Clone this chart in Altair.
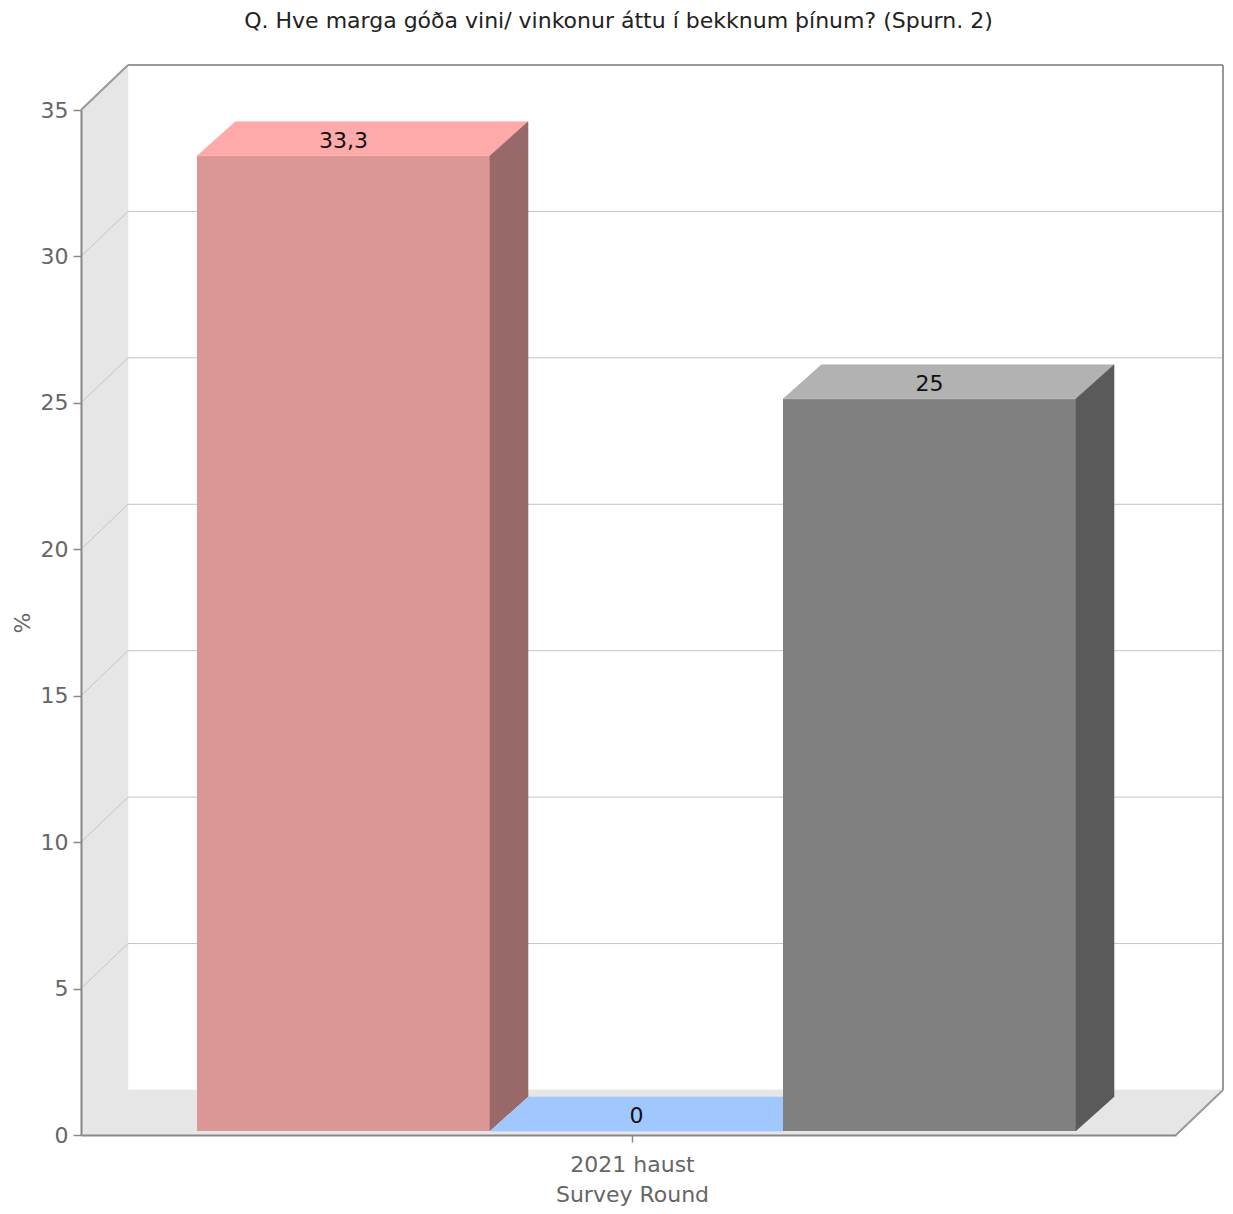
import altair as alt
import pandas as pd

# ---------------- data ----------------
TITLE = "Q. Hve marga góða vini/ vinkonur áttu í bekknum þínum? (Spurn. 2)"
CATEGORIES = ["2021 haust"]
SERIES = ["s1", "s2", "s3"]
VALUES = [33.3, 0.0, 25.0]
VALUE_LABELS = ["33,3", "0", "25"]
Y_TICKS = [0, 5, 10, 15, 20, 25, 30, 35]
X_TITLE = "Survey Round"
Y_TITLE = "%"

# ---------------- style ----------------
FRONT_COLORS = ["#db9696", "#a0c8ff", "#808080"]
TOP_COLORS = ["#ffaaaa", "#a0c8ff", "#b2b2b2"]
SIDE_COLORS = ["#996868", "#7090b2", "#5a5a5a"]
WALL_COLOR = "#e6e6e6"
GRID_COLOR = "#c4c4c4"
BORDER_COLOR = "#999999"
FONT = "DejaVu Sans"

W, H = 1095, 1025          # front face of the plot box, px
Y_MAX = 35
WALL_DX_PX, WALL_DY_PX = 47, 45
BAR_DX_PX, BAR_DY_PX = 38, 34
BAR_LIFT = 4
BAR_START_PX = 116
BAR_W_PX = 293
CAT_CENTER_PX = 551


def ux(p):
    return p / W


def uy(p):
    return p * Y_MAX / H


WDX, WDY = ux(WALL_DX_PX), uy(WALL_DY_PX)
BDX, BDY = ux(BAR_DX_PX), uy(BAR_DY_PX)
CAT_CENTER = ux(CAT_CENTER_PX)

xscale = alt.Scale(domain=[0, 1], nice=False, zero=False)
yscale = alt.Scale(domain=[0, Y_MAX], nice=False, zero=False)

y_axis = alt.Axis(
    values=Y_TICKS, title=Y_TITLE, grid=False,
    domainColor="#888888", domainWidth=2, tickColor="#888888", tickSize=8, tickWidth=1.5,
    labelFont=FONT, labelFontSize=22, labelColor="#666666", labelPadding=5,
    titleFont=FONT, titleFontSize=22, titleColor="#666666", titleFontWeight="normal",
    titlePadding=6, zindex=2,
)
x_axis = alt.Axis(
    values=[CAT_CENTER], labelExpr="'" + CATEGORIES[0] + "'", title=X_TITLE, grid=False,
    domainColor="#888888", domainWidth=2, tickColor="#888888", tickSize=7, tickWidth=1.5,
    labelFont=FONT, labelFontSize=22, labelColor="#666666", labelPadding=12,
    titleFont=FONT, titleFontSize=22, titleColor="#666666", titleFontWeight="normal",
    titlePadding=9, titleX=CAT_CENTER_PX, titleAlign="center", zindex=2,
)


def X(field="x"):
    return alt.X(f"{field}:Q", scale=xscale, axis=x_axis)


def Y(field="y"):
    return alt.Y(f"{field}:Q", scale=yscale, axis=y_axis)


def poly_df(pts):
    return pd.DataFrame([{"k": i, "x": p[0], "y": p[1]} for i, p in enumerate(pts)])


def poly(pts, color, lift=0):
    return alt.Chart(poly_df(pts)).mark_line(
        fill=color, stroke=color, strokeWidth=0.6, yOffset=-lift, strokeJoin="miter"
    ).encode(x=X(), y=Y(), order=alt.Order("k:Q"))


layers = []

# left wall and floor
layers.append(poly([(0, 0), (0, Y_MAX), (WDX, Y_MAX + WDY), (WDX, WDY)], WALL_COLOR))
layers.append(poly([(0, 0), (1, 0), (1 + WDX, WDY), (WDX, WDY)], WALL_COLOR))

# gridlines on the walls
grid_rows = []
for v in Y_TICKS[1:-1]:
    grid_rows.append({"x": 0, "y": v, "x2": WDX, "y2": v + WDY})
    grid_rows.append({"x": WDX, "y": v + WDY, "x2": 1 + WDX, "y2": v + WDY})
layers.append(
    alt.Chart(pd.DataFrame(grid_rows)).mark_rule(color=GRID_COLOR, strokeWidth=1).encode(
        x=X(), y=Y(), x2="x2:Q", y2="y2:Q"
    )
)

# border of the box
border_rows = [
    {"x": 0, "y": Y_MAX, "x2": WDX, "y2": Y_MAX + WDY},
    {"x": WDX, "y": Y_MAX + WDY, "x2": 1 + WDX, "y2": Y_MAX + WDY},
    {"x": 1 + WDX, "y": Y_MAX + WDY, "x2": 1 + WDX, "y2": WDY},
    {"x": 1 + WDX, "y": WDY, "x2": 1, "y2": 0},
]
layers.append(
    alt.Chart(pd.DataFrame(border_rows)).mark_rule(color=BORDER_COLOR, strokeWidth=2).encode(
        x=X(), y=Y(), x2="x2:Q", y2="y2:Q"
    )
)

# bars
for i, v in enumerate(VALUES):
    x0 = ux(BAR_START_PX + i * BAR_W_PX)
    x1 = ux(BAR_START_PX + (i + 1) * BAR_W_PX)
    front = pd.DataFrame([{"x": x0, "x2": x1, "y": v, "y2": 0, "series": SERIES[i]}])
    layers.append(
        alt.Chart(front).mark_rect(
            color=FRONT_COLORS[i], yOffset=-BAR_LIFT, y2Offset=-BAR_LIFT
        ).encode(x=X(), x2="x2:Q", y=Y(), y2="y2:Q")
    )
    layers.append(poly([(x0, v), (x1, v), (x1 + BDX, v + BDY), (x0 + BDX, v + BDY)],
                       TOP_COLORS[i], lift=BAR_LIFT))
    if v > 0:
        layers.append(poly([(x1, 0), (x1, v), (x1 + BDX, v + BDY), (x1 + BDX, BDY)],
                           SIDE_COLORS[i], lift=BAR_LIFT))

# value labels
lab_rows = []
for i, v in enumerate(VALUES):
    x0 = ux(BAR_START_PX + i * BAR_W_PX)
    x1 = ux(BAR_START_PX + (i + 1) * BAR_W_PX)
    lab_rows.append({"x": (x0 + x1) / 2, "y": v + BDY / 2, "label": VALUE_LABELS[i]})
layers.append(
    alt.Chart(pd.DataFrame(lab_rows)).mark_text(
        font=FONT, fontSize=22, color="#111111", baseline="middle", align="center",
        yOffset=-BAR_LIFT + 2,
    ).encode(x=X(), y=Y(), text="label:N")
)

chart = alt.layer(*layers).properties(
    width=W, height=H,
    background="white",
    title=alt.TitleParams(
        TITLE, font=FONT, fontSize=22, fontWeight="normal", color="#222222",
        anchor="middle", frame="group", offset=14, baseline="alphabetic", dx=-10,
    ),
    autosize=alt.AutoSizeParams(type="none"),
    padding={"left": 73, "top": 102, "right": 49, "bottom": 71},
).configure_view(stroke=None)

chart.save("out.html", embed_options={"renderer": "svg", "actions": False})
